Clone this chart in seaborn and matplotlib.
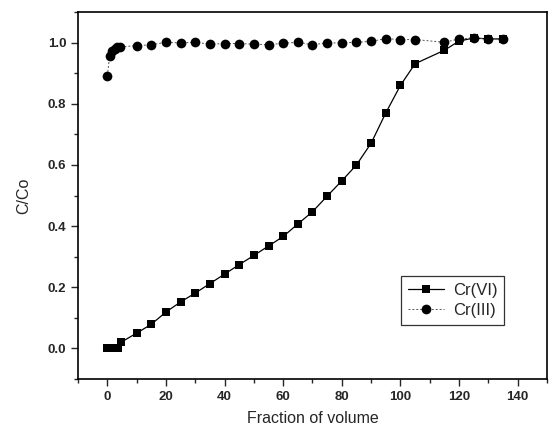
import pandas as pd
import matplotlib
matplotlib.use("Agg")
import matplotlib.pyplot as plt
from matplotlib.ticker import MultipleLocator
import seaborn as sns

sns.set_style("ticks")
plt.rcParams['font.family'] = ['Liberation Sans', 'DejaVu Sans']

# Cr(VI) breakthrough
cr6_x = [0, 1.3, 2.6, 3.8, 4.8, 10, 15, 20, 25, 30, 35, 40, 45, 50, 55, 60, 65,
         70, 75, 80, 85, 90, 95, 100, 105, 115, 120, 125, 130, 135]
cr6_y = [0.0, 0.0, 0.0, 0.0, 0.021, 0.05, 0.079, 0.119, 0.152, 0.181, 0.212, 0.243,
         0.274, 0.304, 0.335, 0.366, 0.407, 0.447, 0.498, 0.548, 0.6, 0.671, 0.77,
         0.86, 0.931, 0.975, 1.005, 1.015, 1.012, 1.012]

# Cr(III)
cr3_x = [0, 0.8, 1.6, 2.5, 3.4, 4.2, 10, 15, 20, 25, 30, 35, 40, 45, 50, 55, 60, 65,
         70, 75, 80, 85, 90, 95, 100, 105, 115, 120, 125, 130, 135]
cr3_y = [0.892, 0.957, 0.971, 0.979, 0.985, 0.986, 0.99, 0.993, 1.001, 0.999, 1.001,
         0.995, 0.997, 0.997, 0.995, 0.993, 0.998, 1.001, 0.993, 0.999, 0.999, 1.001,
         1.004, 1.013, 1.01, 1.01, 1.001, 1.012, 1.015, 1.012, 1.012]

df6 = pd.DataFrame({'x': cr6_x, 'y': cr6_y})
df3 = pd.DataFrame({'x': cr3_x, 'y': cr3_y})

fig = plt.figure(figsize=(5.51, 4.26), dpi=100)
ax = fig.add_axes([0.1416, 0.1103, 0.8511, 0.8615])

sns.lineplot(data=df6, x='x', y='y', ax=ax, color='black', lw=0.9, marker='s',
             markersize=6, markeredgewidth=0, label='Cr(VI)', sort=False)
sns.lineplot(data=df3, x='x', y='y', ax=ax, color='#555555', lw=0.7, ls=(0, (2, 2)),
             marker='o', markersize=7, markerfacecolor='black', markeredgewidth=0,
             label='Cr(III)', sort=False)

ax.set_xlim(-10, 150)
ax.set_ylim(-0.1, 1.1)
ax.xaxis.set_major_locator(MultipleLocator(20))
ax.xaxis.set_minor_locator(MultipleLocator(10))
ax.yaxis.set_major_locator(MultipleLocator(0.2))
ax.yaxis.set_minor_locator(MultipleLocator(0.1))
ax.yaxis.set_major_formatter(plt.FormatStrFormatter('%.1f'))
ax.tick_params(which='major', direction='out', length=5, width=1, labelsize=9.5)
ax.tick_params(which='minor', direction='out', length=3, width=1)
for lab in ax.get_xticklabels() + ax.get_yticklabels():
    lab.set_fontweight('bold')
for sp in ax.spines.values():
    sp.set_linewidth(1.2)
    sp.set_color('black')

ax.set_xlabel('Fraction of volume', fontsize=11.5, labelpad=6)
ax.set_ylabel('C/Co', fontsize=11.5, labelpad=12)

leg = ax.legend(loc='lower right', bbox_to_anchor=(0.926, 0.125), fontsize=12,
                frameon=True, fancybox=False, edgecolor='black', handlelength=2.2,
                borderpad=0.4, labelspacing=0.3, handletextpad=0.5)
leg.get_frame().set_linewidth(0.9)

fig.savefig('out.png', dpi=100)
